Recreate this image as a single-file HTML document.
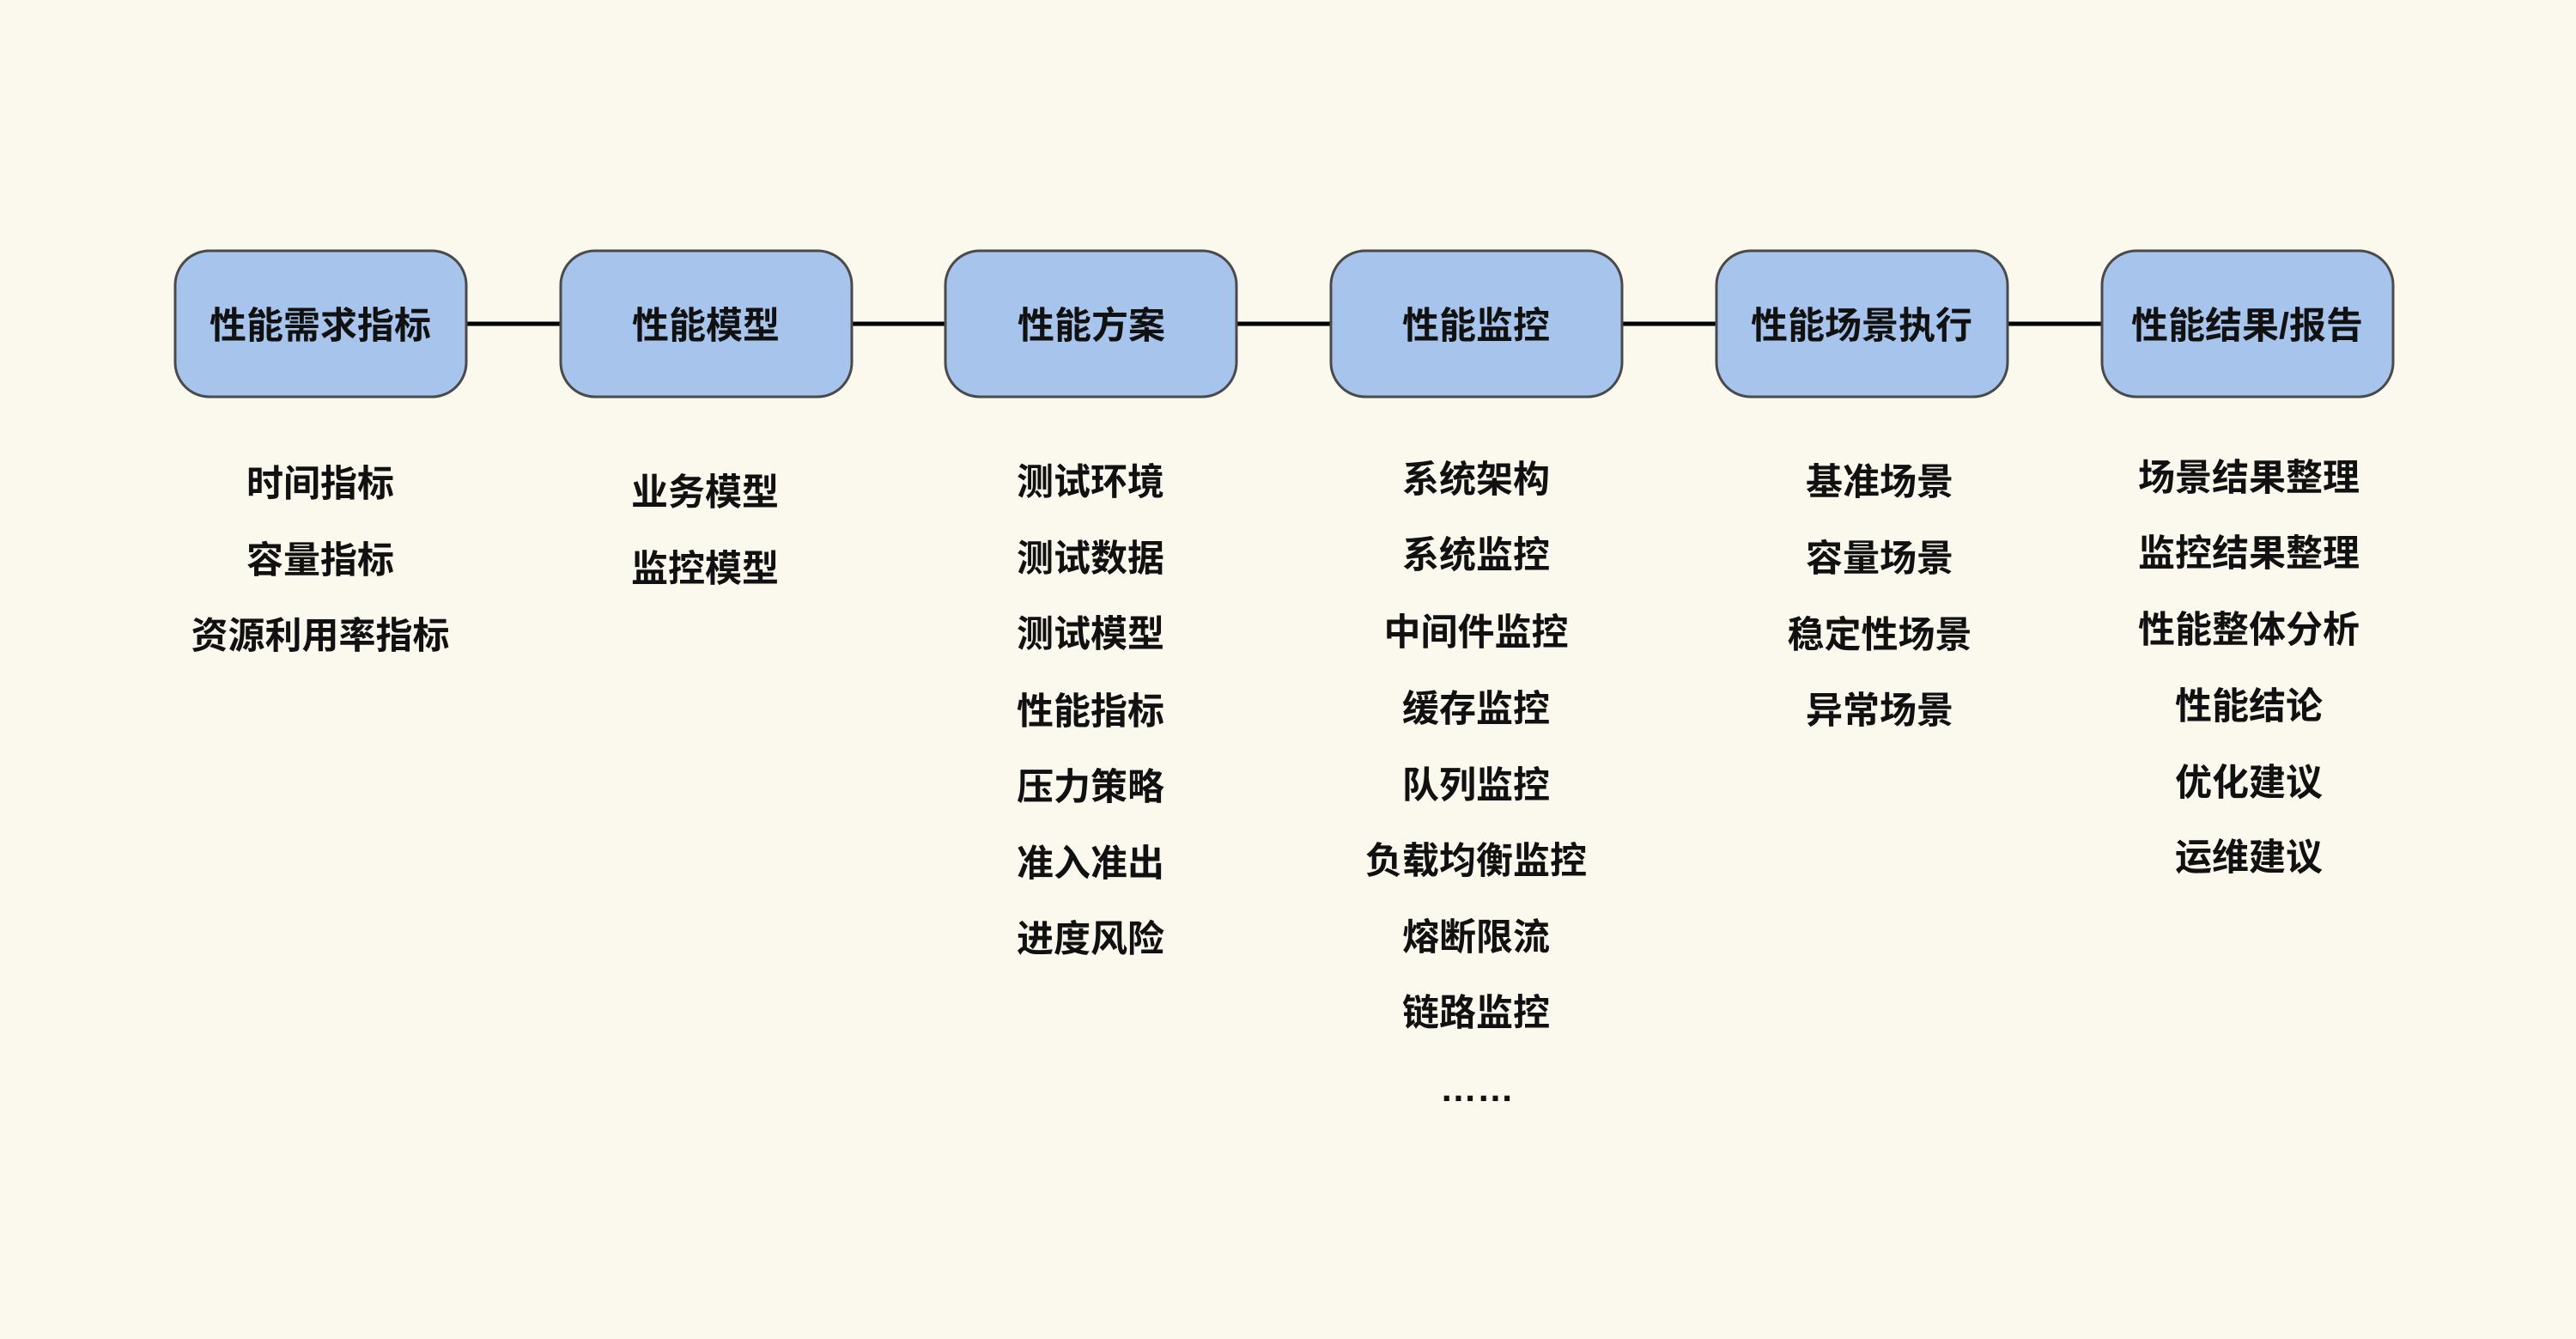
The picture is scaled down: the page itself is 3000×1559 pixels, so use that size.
<!DOCTYPE html>
<html>
<head>
<meta charset="utf-8">
<style>
  html, body { margin: 0; padding: 0; background: #fbf9ee; }
  svg { display: block; }
  text { font-family: "Liberation Sans", "Noto Sans CJK SC", sans-serif; font-weight: bold; font-size: 43px; fill: #111; }
</style>
</head>
<body>
<svg width="3000" height="1559" viewBox="0 0 3000 1559" xmlns="http://www.w3.org/2000/svg">
  <rect x="0" y="0" width="3000" height="1559" fill="#fbf9ee"/>

  <!-- connectors -->
  <g stroke="#000" stroke-width="5">
    <line x1="543" y1="377" x2="652" y2="377"/>
    <line x1="992" y1="377" x2="1100" y2="377"/>
    <line x1="1440" y1="377" x2="1549" y2="377"/>
    <line x1="1889" y1="377" x2="1998" y2="377"/>
    <line x1="2338" y1="377" x2="2447" y2="377"/>
  </g>

  <!-- boxes -->
  <g fill="#a7c5ec" stroke="#4a4a4a" stroke-width="3">
    <rect x="204" y="292" width="339" height="170" rx="40" ry="40"/>
    <rect x="653" y="292" width="339" height="170" rx="40" ry="40"/>
    <rect x="1101" y="292" width="339" height="170" rx="40" ry="40"/>
    <rect x="1550" y="292" width="339" height="170" rx="40" ry="40"/>
    <rect x="1999" y="292" width="339" height="170" rx="40" ry="40"/>
    <rect x="2448" y="292" width="339" height="170" rx="40" ry="40"/>
  </g>

  <!-- box labels -->
  <g text-anchor="middle">
    <text x="373" y="394">性能需求指标</text>
    <text x="822" y="394">性能模型</text>
    <text x="1271" y="394">性能方案</text>
    <text x="1719" y="394">性能监控</text>
    <text x="2168" y="394">性能场景执行</text>
    <text x="2617" y="394">性能结果/报告</text>
  </g>

  <!-- column 1 -->
  <g text-anchor="middle">
    <text x="373" y="578">时间指标</text>
    <text x="373" y="667">容量指标</text>
    <text x="373" y="755">资源利用率指标</text>
  </g>

  <!-- column 2 -->
  <g text-anchor="middle">
    <text x="821" y="588">业务模型</text>
    <text x="821" y="677">监控模型</text>
  </g>

  <!-- column 3 -->
  <g text-anchor="middle">
    <text x="1270" y="576">测试环境</text>
    <text x="1270" y="665">测试数据</text>
    <text x="1270" y="753">测试模型</text>
    <text x="1270" y="843">性能指标</text>
    <text x="1270" y="931">压力策略</text>
    <text x="1270" y="1020">准入准出</text>
    <text x="1270" y="1108">进度风险</text>
  </g>

  <!-- column 4 -->
  <g text-anchor="middle">
    <text x="1719" y="573">系统架构</text>
    <text x="1719" y="661">系统监控</text>
    <text x="1719" y="751">中间件监控</text>
    <text x="1719" y="840">缓存监控</text>
    <text x="1719" y="929">队列监控</text>
    <text x="1719" y="1017">负载均衡监控</text>
    <text x="1719" y="1106">熔断限流</text>
    <text x="1719" y="1194">链路监控</text>
    <text x="1720" y="1282" style="font-family: 'Liberation Sans', sans-serif;">……</text>
  </g>

  <!-- column 5 -->
  <g text-anchor="middle">
    <text x="2189" y="576">基准场景</text>
    <text x="2189" y="665">容量场景</text>
    <text x="2189" y="754">稳定性场景</text>
    <text x="2189" y="842">异常场景</text>
  </g>

  <!-- column 6 -->
  <g text-anchor="middle">
    <text x="2619" y="571">场景结果整理</text>
    <text x="2619" y="659">监控结果整理</text>
    <text x="2619" y="748">性能整体分析</text>
    <text x="2619" y="837">性能结论</text>
    <text x="2619" y="926">优化建议</text>
    <text x="2619" y="1013">运维建议</text>
  </g>
</svg>
</body>
</html>
